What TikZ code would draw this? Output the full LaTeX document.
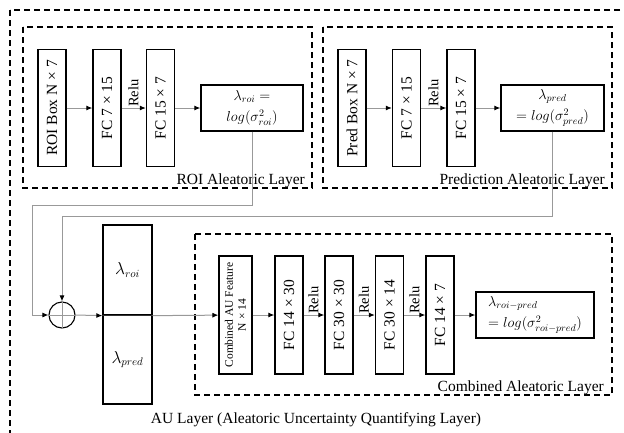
\documentclass[tikz,border=0pt]{standalone}
\usepackage{fontspec}
\setmainfont{Liberation Serif}
\usetikzlibrary{arrows.meta,calc}
\begin{document}
\begin{tikzpicture}[x=1pt,y=-1pt,
  box/.style={draw,line width=1.3pt,fill=white,inner sep=1pt,font=\fontsize{15.5}{18}\selectfont},
  vbox/.style={box,rotate=90,minimum width=117pt,minimum height=28pt},
  mbox/.style={box,minimum height=46pt,font=\fontsize{14.5}{21}\selectfont},
  layer/.style={draw,line width=1.2pt,dash pattern=on 6pt off 4pt},
  conn/.style={draw=black!40,line width=1pt},
  arr/.style={conn,-{Latex[length=6pt,width=5pt,color=black]}},
  relu/.style={rotate=90,anchor=west,inner sep=1pt,font=\fontsize{14.5}{16}\selectfont},
  lab/.style={font=\fontsize{15.5}{18}\selectfont,inner sep=1pt},
]
\useasboundingbox (0,0) rectangle (624,432);
\clip (0,0) rectangle (624,432);
\fill[white] (0,0) rectangle (624,432);

% outer layer
\draw[layer] (10,10) rectangle (650,460);

% ROI aleatoric layer
\draw[layer] (23,27) rectangle (312,188);
\node[lab,anchor=south east] (roilab) at (306,189) {ROI Aleatoric Layer};
\node[vbox] (roibox) at (52,108) {ROI Box N × 7};
\node[vbox] (rfc1) at (107,108) {FC 7 × 15};
\node[vbox] (rfc2) at (160.5,108) {FC 15 × 7};
\node[mbox,minimum width=102pt,align=center] (lamroi) at (252,108) {$\lambda_{roi}=$\\$log(\sigma^2_{roi})$};
\draw[arr] (roibox) -- (rfc1);
\draw[arr] (rfc1) -- (rfc2);
\draw[arr] (rfc2) -- (lamroi);
\node[relu] (rrelu) at (133.5,108) {Relu};

% Prediction aleatoric layer
\draw[layer] (323,27) rectangle (612,188);
\node[lab,anchor=south east] (predlab) at (606,189) {Prediction Aleatoric Layer};
\node[vbox] (predbox) at (352,108) {Pred Box N × 7};
\node[vbox] (pfc1) at (406.5,108) {FC 7 × 15};
\node[vbox] (pfc2) at (461,108) {FC 15 × 7};
\node[mbox,minimum width=103pt,align=center] (lampred) at (552.5,108) {$\lambda_{pred}$\\$=log(\sigma^2_{pred})$};
\draw[arr] (predbox) -- (pfc1);
\draw[arr] (pfc1) -- (pfc2);
\draw[arr] (pfc2) -- (lampred);
\node[relu] (prelu) at (433.5,108) {Relu};

% sum
\node[circle,draw,line width=1.1pt,minimum size=26pt,inner sep=0pt] (sum) at (62,315) {};
\draw[conn] (sum.north) -- (sum.south) (sum.west) -- (sum.east);
\coordinate (r1) at (32,205);
\coordinate (r2) at (62,216);
\draw[arr] (lamroi.south) |- (r1) |- (sum.west);
\draw[arr] (lampred.south) |- (r2) -- (sum.north);

% concatenated box
\node[box,minimum width=49pt,minimum height=90pt,font=\fontsize{16}{18}\selectfont] (top) at (127.5,270) {$\lambda_{roi}$};
\node[box,minimum width=49pt,minimum height=89pt,font=\fontsize{16}{18}\selectfont] (bot) at (127.5,359.5) {$\lambda_{pred}$};
\draw[line width=1.3pt,black!80] (top.south west) -- (top.south east);
\draw[arr] (sum.east) -- (top.south west);

% combined aleatoric layer
\draw[layer] (195,234) rectangle (612,395);
\node[lab,anchor=south east] (comblab) at (605,396) {Combined Aleatoric Layer};
\node[box,rotate=90,minimum width=118pt,minimum height=33pt,align=center,font=\fontsize{11.5}{13}\selectfont] (cafeat) at (235.5,315) {Combined AU Feature\\N × 14};
\node[vbox,minimum width=118pt] (c1) at (289,315) {FC 14 × 30};
\node[vbox,minimum width=118pt] (c2) at (339,315) {FC 30 × 30};
\node[vbox,minimum width=118pt] (c3) at (389.5,315) {FC 30 × 14};
\node[vbox,minimum width=118pt] (c4) at (440,315) {FC 14 × 7};
\node[mbox,minimum width=118pt,align=left] (lamrp) at (535,315) {$\lambda_{roi-pred}$\\$=log(\sigma^2_{roi-pred})$};
\draw[arr] (top.south east) -- (cafeat);
\draw[arr] (cafeat) -- (c1);
\draw[arr] (c1) -- (c2);
\draw[arr] (c2) -- (c3);
\draw[arr] (c3) -- (c4);
\draw[arr] (c4) -- (lamrp);
\node[relu] (crelu1) at (313.5,315) {Relu};
\node[relu] (crelu2) at (364,315) {Relu};
\node[relu] (crelu3) at (414.5,315) {Relu};

\node[lab] (aulab) at (316,420) {AU Layer (Aleatoric Uncertainty Quantifying Layer)};
\end{tikzpicture}
\end{document}
